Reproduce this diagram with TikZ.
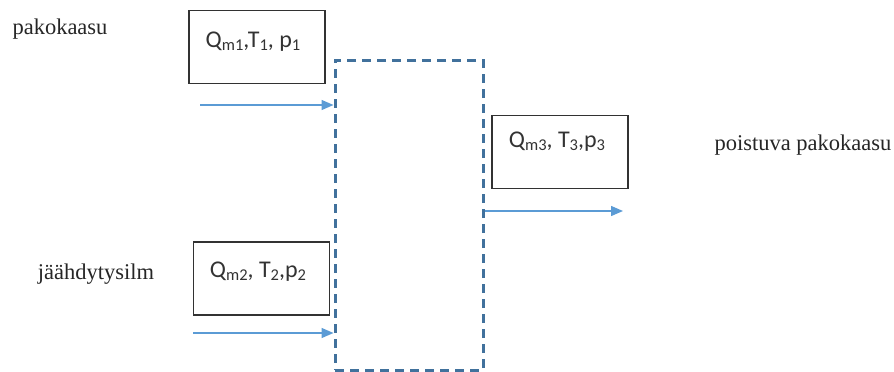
\documentclass[tikz,border=0pt]{standalone}
\usepackage{fontspec}
\setmainfont{Liberation Serif}
\newfontfamily\boxfont{Carlito}
\usetikzlibrary{arrows.meta}
\definecolor{flowblue}{RGB}{91,155,213}
\definecolor{ctrlblue}{RGB}{65,113,156}
\definecolor{boxgray}{RGB}{50,50,50}
\newcommand{\lowsub}[1]{\raisebox{-2.5pt}{\fontsize{16.5}{16.5}\selectfont #1}}
\begin{document}
\begin{tikzpicture}[x=1pt,y=-1pt,
  statebox/.style={draw=boxgray,line width=1.3pt,minimum width=136pt,minimum height=73pt,inner sep=0pt},
  boxtext/.style={font=\boxfont\fontsize{24}{26}\selectfont,text=black!80},
  lbl/.style={font=\fontsize{22.5}{24}\selectfont,text=black!85},
  flow/.style={draw=flowblue,line width=1.4pt,-{Triangle[length=12pt,width=10pt]}},
  ctrl/.style={draw=ctrlblue,line width=3pt,dash pattern=on 9pt off 6pt}]
\useasboundingbox (0,0) rectangle (894,372);
% control volume
\node[ctrl,minimum width=148pt,minimum height=310pt,inner sep=0pt] (cv) at (409,215) {};
% state boxes
\node[statebox] (b1) at (257,47) {};
\node[boxtext] (t1) at (253,42) {Q\lowsub{m1},T\lowsub{1}, p\lowsub{1}};
\node[statebox] (b2) at (261.5,278.5) {};
\node[boxtext] (t2) at (258,272) {Q\lowsub{m2}, T\lowsub{2},p\lowsub{2}};
\node[statebox] (b3) at (560,152) {};
\node[boxtext] (t3) at (557,142) {Q\lowsub{m3}, T\lowsub{3},p\lowsub{3}};
% labels
\node[lbl] (l1) at (60,29) {pakokaasu};
\node[lbl] (l2) at (96,274) {jäähdytysilm};
\node[lbl] (l3) at (803,145) {poistuva pakokaasu};
% flows
\coordinate (s1) at (200,105);
\coordinate (s2) at (193,333);
\coordinate (e3) at (623,211);
\draw[flow] (s1) -- (s1 -| cv.west);
\draw[flow] (s2) -- (s2 -| cv.west);
\draw[flow] (e3 -| cv.east) -- (e3);
\end{tikzpicture}
\end{document}
